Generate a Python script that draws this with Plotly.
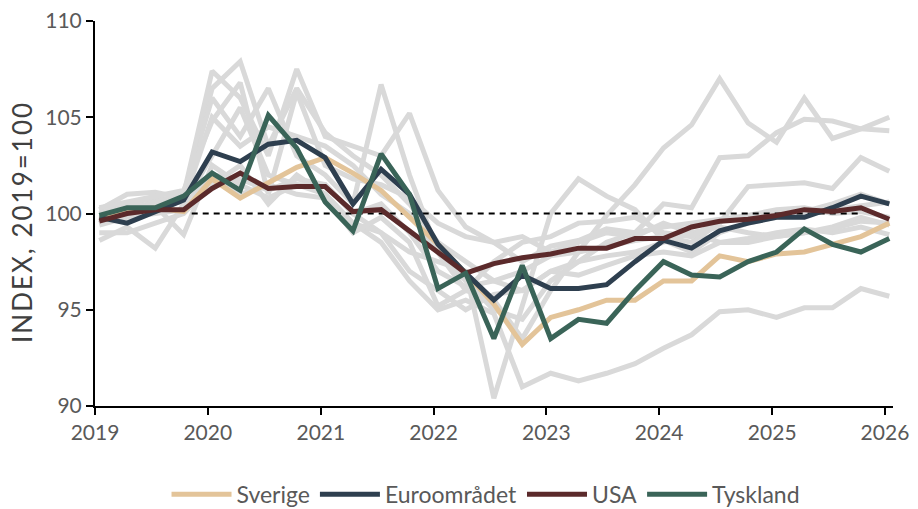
import plotly.graph_objects as go

# Quarterly observation dates (2019Q1 .. 2026Q1)
DATES = [f"{y}-{m:02d}-15" for y in range(2019, 2027) for m in (1, 4, 7, 10)][:29]

SVERIGE = [99.7, 100.1, 100.3, 100.1, 101.8, 100.8, 101.6, 102.4, 102.9, 102.1, 101.2, 99.8,
           98.4, 96.9, 95.3, 93.2, 94.6, 95.0, 95.5, 95.5, 96.5, 96.5, 97.8, 97.5,
           97.9, 98.0, 98.4, 98.8, 99.5]
EURO = [99.8, 99.5, 100.1, 100.7, 103.2, 102.7, 103.6, 103.8, 102.9, 100.5, 102.3, 101.0,
        98.4, 96.9, 95.5, 96.8, 96.1, 96.1, 96.3, 97.5, 98.6, 98.2, 99.1, 99.5,
        99.8, 99.8, 100.3, 100.9, 100.5]
USA = [99.6, 100.0, 100.2, 100.2, 101.3, 102.1, 101.3, 101.4, 101.4, 100.1, 100.2, 99.1,
       98.0, 96.9, 97.4, 97.7, 97.9, 98.2, 98.2, 98.7, 98.7, 99.3, 99.6, 99.7,
       99.9, 100.2, 100.1, 100.3, 99.7]
TYSKLAND = [99.9, 100.3, 100.3, 100.9, 102.1, 101.2, 105.1, 103.4, 100.6, 99.1, 103.1, 101.0,
            96.1, 96.9, 93.5, 97.3, 93.5, 94.5, 94.3, 96.0, 97.5, 96.8, 96.7, 97.5,
            98.0, 99.2, 98.4, 98.0, 98.7]

GRAY = [
    [99.5, 100.5, 100.8, 100.6, 105.0, 103.5, 104.5, 104.0, 103.5, 102.5, 101.0, 100.0,
     98.0, 96.0, 95.5, 93.5, 96.0, 98.0, 99.9, 101.5, 103.4, 104.6, 107.0, 104.7,
     103.7, 106.0, 103.9, 104.4, 105.0],
    [100.2, 101.0, 101.1, 100.8, 106.5, 107.9, 103.5, 106.5, 104.2, 103.0, 102.0, 100.5,
     98.5, 97.5, 96.5, 96.0, 97.0, 97.5, 98.5, 99.0, 100.5, 100.3, 102.9, 103.0,
     104.2, 104.9, 104.8, 104.4, 104.3],
    [100.0, 100.2, 100.5, 100.6, 102.0, 101.8, 101.2, 101.8, 101.5, 100.0, 100.5, 99.0,
     97.0, 96.2, 96.5, 97.0, 97.8, 98.0, 98.3, 98.6, 98.8, 98.5, 99.5, 101.4,
     101.5, 101.6, 101.3, 102.9, 102.2],
    [98.6, 99.3, 98.2, 100.5, 103.0, 105.5, 102.0, 101.5, 101.5, 100.0, 99.0, 98.0,
     97.5, 97.0, 90.4, 95.3, 100.0, 101.8, 100.9, 100.2, 98.6, 98.0, 99.0, 99.5,
     99.8, 100.0, 100.2, 100.4, 100.6],
    [99.0, 99.0, 99.5, 100.0, 101.5, 102.5, 100.5, 102.0, 101.0, 99.5, 98.5, 96.5,
     95.0, 95.5, 94.8, 91.0, 91.7, 91.3, 91.7, 92.2, 93.0, 93.7, 94.9, 95.0,
     94.6, 95.1, 95.1, 96.1, 95.7],
    [99.8, 100.2, 100.6, 101.0, 106.0, 104.0, 106.5, 103.0, 102.0, 100.5, 106.7, 102.0,
     98.0, 96.5, 95.0, 94.5, 96.5, 97.5, 97.8, 98.0, 98.5, 99.0, 99.3, 99.0,
     98.8, 99.0, 99.3, 99.8, 99.4],
    [100.0, 100.5, 100.3, 101.0, 107.4, 106.0, 103.0, 107.5, 104.0, 103.5, 103.0, 105.2,
     101.2, 99.3, 98.5, 98.8, 98.0, 98.5, 99.0, 98.8, 99.5, 99.0, 98.5, 98.7,
     99.0, 99.2, 99.0, 99.3, 98.9],
    [100.1, 100.0, 100.4, 98.9, 102.5, 101.5, 100.8, 101.5, 101.0, 99.5, 99.0, 97.0,
     96.0, 95.0, 95.8, 96.0, 97.0, 96.8, 97.3, 97.8, 98.0, 97.8, 98.5, 98.5,
     98.8, 99.0, 99.2, 99.6, 99.5],
    [99.4, 99.8, 100.0, 100.2, 101.8, 101.0, 101.5, 101.0, 100.8, 99.0, 99.8, 98.5,
     95.2, 96.0, 97.5, 98.5, 98.8, 99.5, 99.6, 99.8, 99.0, 98.8, 99.6, 99.8,
     100.0, 100.1, 100.5, 101.0, 100.5],
    [100.3, 100.6, 100.9, 101.2, 104.8, 106.8, 101.0, 106.3, 102.5, 101.8, 101.5, 100.8,
     99.5, 98.8, 98.5, 97.5, 98.3, 98.6, 99.2, 99.0, 99.3, 99.5, 99.7, 99.9,
     100.2, 100.3, 100.0, 100.1, 99.8],
]

REF_X = ["2019-11-10", "2025-10-20"]
REF_Y = [100, 100]

YEAR_TICKS = [f"{y}-01-01" for y in range(2019, 2027)]
YEAR_LABELS = [str(y) for y in range(2019, 2027)]
Y_TITLE = "INDEX, 2019=100"

fig = go.Figure()
for g in GRAY:
    fig.add_trace(go.Scatter(x=DATES, y=g, mode="lines", showlegend=False, hoverinfo="skip",
                             line=dict(color="#D9D9D9", width=5)))
fig.add_trace(go.Scatter(x=REF_X, y=REF_Y, mode="lines", showlegend=False,
                         line=dict(color="black", width=2, dash="6px,5px")))

series = [("Sverige", SVERIGE, "#E3C499"), ("Euroområdet", EURO, "#2E3F4F"),
          ("USA", USA, "#5B2A2B"), ("Tyskland", TYSKLAND, "#3A6458")]
for name, vals, col in series:
    fig.add_trace(go.Scatter(x=DATES, y=vals, mode="lines", name=name,
                             line=dict(color=col, width=5)))

tick_font = dict(family="Lato", size=21, color="#595959")
legend_font = dict(family="Lato", size=23, color="#595959")
fig.update_layout(
    width=918, height=528,
    margin=dict(l=95, r=25, t=21, b=108),
    paper_bgcolor="white", plot_bgcolor="white",
    font=tick_font,
    showlegend=True,
    legend=dict(orientation="h", x=0.49, xanchor="center", y=-0.2296, yanchor="middle",
                font=legend_font, itemwidth=60, traceorder="normal"),
    annotations=[dict(text=Y_TITLE, textangle=-90, xref="paper", yref="paper",
                      x=-0.0915, y=0.478, xanchor="center", yanchor="middle",
                      showarrow=False,
                      font=dict(family="Lato", size=26, color="#404040"))],
)
fig.update_xaxes(type="date", range=["2019-01-01", "2026-01-27"], showgrid=False,
                 tickmode="array", tickvals=YEAR_TICKS, ticktext=YEAR_LABELS,
                 showline=True, linecolor="black", linewidth=2,
                 ticks="outside", ticklen=7, tickwidth=2, tickcolor="black",
                 tickfont=tick_font, zeroline=False, automargin=False)
fig.update_yaxes(range=[90, 110], tickvals=[90, 95, 100, 105, 110], showgrid=False,
                 showline=True, linecolor="black", linewidth=2,
                 ticks="outside", ticklen=7, tickwidth=2, tickcolor="black",
                 tickfont=tick_font, zeroline=False, automargin=False)

fig.write_html(
    "out.html", config={"displayModeBar": False},
    post_script=("document.body.style.margin='0';document.body.style.overflow='hidden';"
                 "document.querySelectorAll('.annotation-text').forEach(function(e){"
                 "e.style.letterSpacing='2px';});"))
